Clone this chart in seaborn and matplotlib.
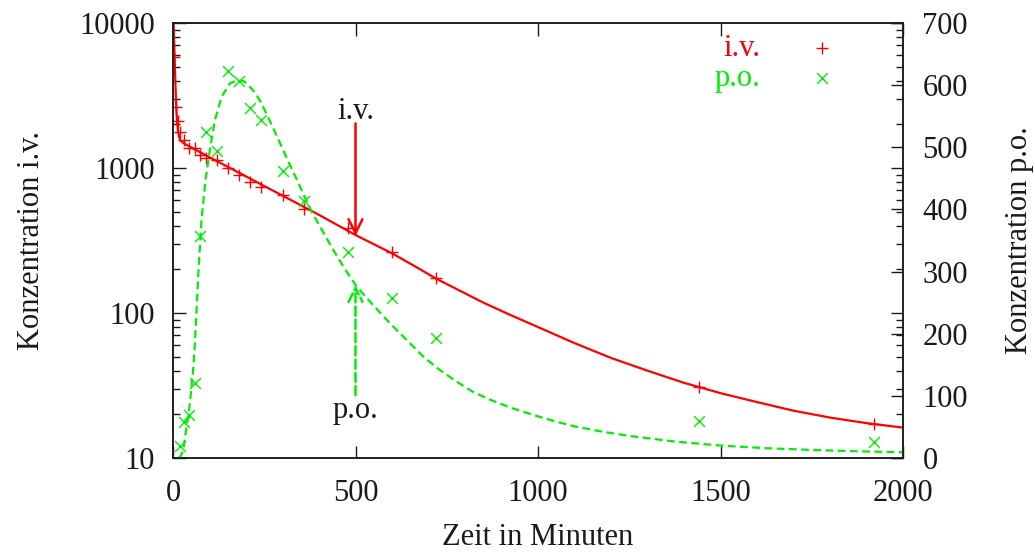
import seaborn as sns
import matplotlib.pyplot as plt
from matplotlib.ticker import LogLocator, NullFormatter, NullLocator

iv_t = [3, 9, 13, 19, 30, 45, 60, 75, 90, 120, 150, 180, 210, 240, 300, 360, 480, 600, 720, 1440, 1920]
iv_c = [5800, 2650, 2100, 1760, 1560, 1370, 1365, 1230, 1180, 1135, 1000, 895, 800, 745, 650, 522, 385, 265, 173, 31, 17.1]

po_t = [20, 30, 45, 60, 75, 90, 120, 150, 180, 210, 240, 300, 360, 480, 600, 720, 1440, 1920]
po_c = [19, 58, 69, 121, 357, 525, 494, 623, 607, 563, 544, 462, 414, 332, 258, 193, 60, 25]

# fitted curves
fit_iv_t = [1.5, 4.6, 6.4, 9, 11, 14, 17, 21, 30, 41, 60, 100, 150, 200, 250, 300, 400, 500,
            600, 660, 720, 780, 850, 920, 1000, 1100, 1200, 1300, 1400, 1500, 1600, 1700,
            1800, 1900, 2000]
fit_iv_c = [10000, 5700, 3940, 2580, 2100, 1780, 1630, 1540, 1480, 1425, 1343, 1187, 1019, 875,
            751, 645, 475, 345, 258, 212, 173, 145, 118, 98, 80, 62, 49, 40, 33, 28, 24.3, 21.2,
            19.0, 17.4, 16.2]

fit_po_t = [15, 20, 25, 30, 37, 43, 49, 55, 60, 69, 78, 89, 101, 115, 133, 156, 178, 195, 206,
            225, 243, 260, 279, 300, 320, 340, 357, 380, 410, 439, 470, 503, 550, 594, 640, 686,
            730, 777, 820, 868, 930, 1000, 1050, 1100, 1175, 1250, 1375, 1500, 1625, 1750,
            1875, 2000]
fit_po_c = [0, 2, 8, 20, 50, 72, 104, 140, 185, 292, 383, 447, 496, 544, 581, 603, 608, 606, 600,
            588, 570, 549, 525, 498, 472, 447, 425, 396, 365, 335, 305, 276, 245, 217, 190, 163,
            142, 123, 107, 94, 80, 67, 58.5, 51, 42.5, 35.5, 26.5, 20, 15.8, 13, 10.8, 9.2]

# arrows and their labels
iv_arrow = (500, 2030, 340)    # x, start, tip (left axis)
po_arrow = (500, 101, 278)     # x, start, tip (right axis)

x_ticks = [0, 500, 1000, 1500, 2000]
y_ticks = [10, 100, 1000, 10000]
y2_ticks = [0, 100, 200, 300, 400, 500, 600, 700]

RED = '#ff0000'
GREEN = '#00ee00'
INK = '#1a1a1a'

sns.set_style("ticks")
plt.rcParams['font.family'] = ['Liberation Serif', 'DejaVu Serif']
plt.rcParams['font.size'] = 22

fig = plt.figure(figsize=(10.35, 5.54), dpi=100)
ax = fig.add_axes([173 / 1035, 1 - 458 / 554, 730 / 1035, 435 / 554])
ax.set_yscale('log')
ax2 = ax.twinx()

sns.lineplot(x=fit_iv_t, y=fit_iv_c, ax=ax, color=RED, lw=1.6, estimator=None, sort=False)
sns.scatterplot(x=iv_t, y=iv_c, ax=ax, marker='+', color=RED, s=65, linewidth=1,
                label='i.v.', legend=False, zorder=3)

sns.lineplot(x=fit_po_t, y=fit_po_c, ax=ax2, color=GREEN, lw=1.6, estimator=None, sort=False,
             linestyle=(0, (3.5, 2)))
sns.scatterplot(x=po_t, y=po_c, ax=ax2, marker='x', color=GREEN, s=60, linewidth=1,
                label='p.o.', legend=False, zorder=3)

ax.set_xlim(0, 2000)
ax.set_ylim(10, 10000)
ax2.set_ylim(0, 700)

# arrows
ax.annotate('', xy=(iv_arrow[0], iv_arrow[2]), xytext=(iv_arrow[0], iv_arrow[1]),
            arrowprops=dict(arrowstyle='->,head_length=0.5,head_width=0.25', color=RED,
                            lw=1.8, shrinkA=0, shrinkB=0, mutation_scale=20))
ax.text(iv_arrow[0], 2450, 'i.v.', ha='center', va='center', color=INK)
ax2.annotate('', xy=(po_arrow[0], po_arrow[2]), xytext=(po_arrow[0], po_arrow[1]),
             arrowprops=dict(arrowstyle='->,head_length=0.5,head_width=0.25', color=GREEN,
                             lw=1.8, ls='--', shrinkA=0, shrinkB=0, mutation_scale=20))
ax2.text(po_arrow[0], 77, 'p.o.', ha='center', va='center', color=INK)

# ticks
ax.set_xticks(x_ticks)
ax.set_xticklabels([str(v) for v in x_ticks])
ax.set_yticks(y_ticks)
ax.set_yticklabels([str(v) for v in y_ticks])
ax.yaxis.set_minor_locator(LogLocator(base=10, subs=range(2, 10)))
ax.yaxis.set_minor_formatter(NullFormatter())
ax.xaxis.set_minor_locator(NullLocator())
ax2.set_yticks(y2_ticks)
ax2.set_yticklabels([str(v) for v in y2_ticks])

ax.tick_params(axis='both', which='both', direction='in', top=True, right=True,
               width=1, colors=INK, labelsize=22)
ax.tick_params(which='major', length=9)
ax.tick_params(which='minor', length=5)
ax.tick_params(axis='x', pad=15)
ax.tick_params(axis='y', pad=13)
ax2.tick_params(axis='y', direction='in', length=9, width=1, colors=INK,
                labelsize=22, pad=14)

for a in (ax, ax2):
    for sp in a.spines.values():
        sp.set_linewidth(1.1)
        sp.set_color(INK)

ax.set_xlabel('Zeit in Minuten', color=INK)
ax.xaxis.set_label_coords(0.5, -0.150)
ax.set_ylabel('Konzentration i.v.', color=INK)
ax.yaxis.set_label_coords(-0.174, 0.5)
ax2.set_ylabel('Konzentration p.o.', color=INK)
ax2.yaxis.set_label_coords(1.14, 0.5)

h1, l1 = ax.get_legend_handles_labels()
h2, l2 = ax2.get_legend_handles_labels()
ax2.legend(h1 + h2, l1 + l2, loc='upper right', bbox_to_anchor=(0.9096, 0.975),
           markerfirst=False, frameon=False, labelcolor=[RED, GREEN], handlelength=1,
           handletextpad=1.5, borderpad=0, borderaxespad=0, labelspacing=0.05,
           scatterpoints=1, fontsize=22)

fig.savefig('out.png', dpi=100)
